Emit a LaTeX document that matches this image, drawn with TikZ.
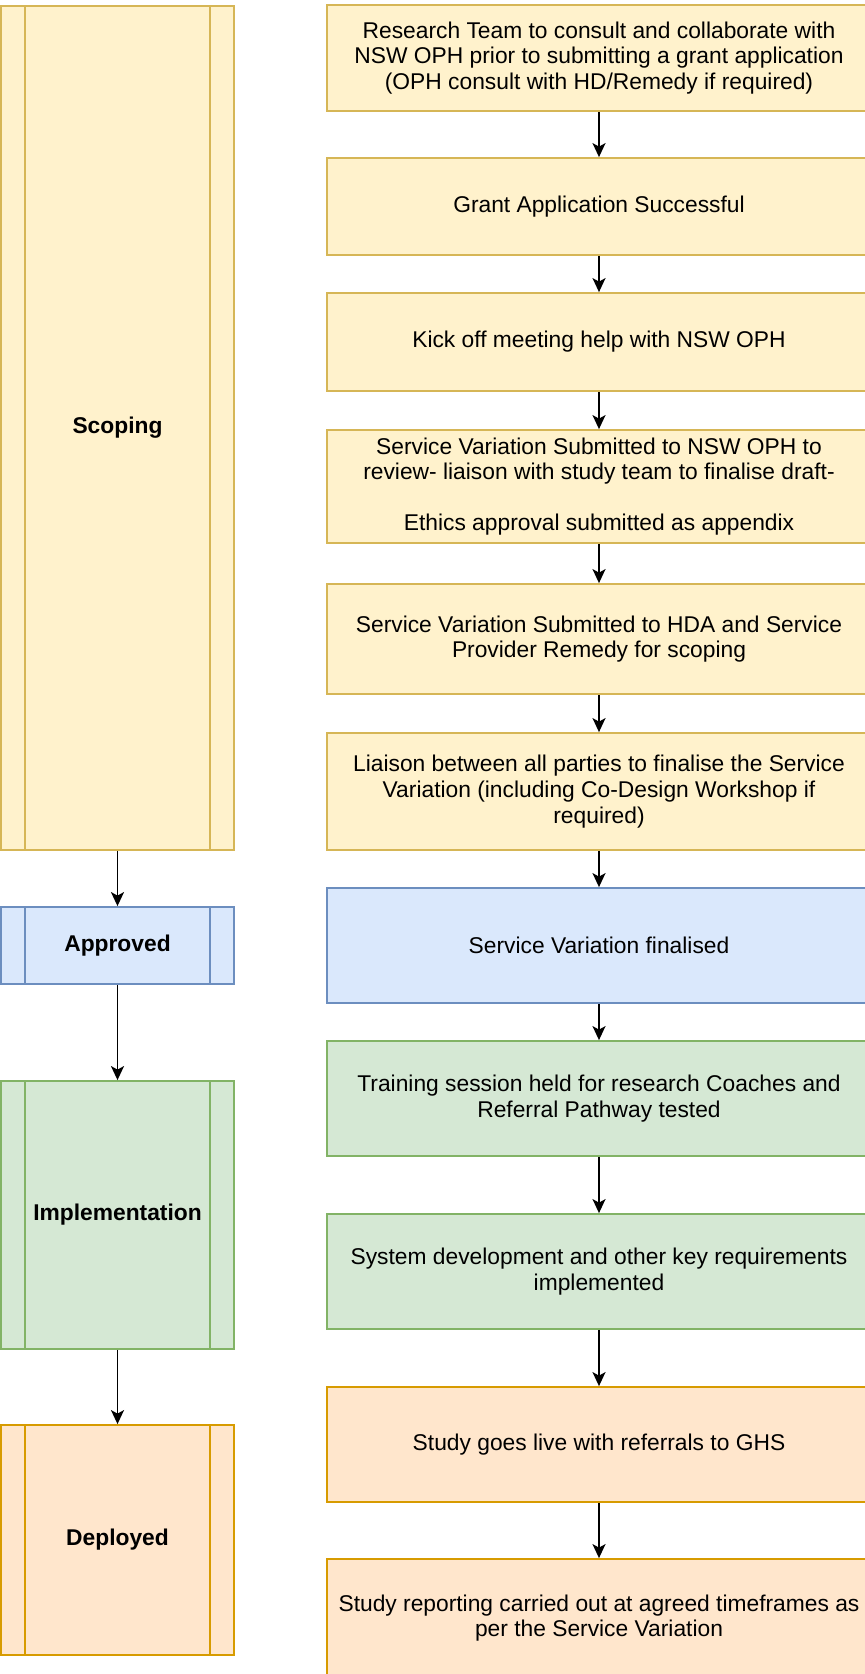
\documentclass[tikz,border=0pt]{standalone}
\usepackage{fontspec}
\setmainfont{Liberation Sans}
\usepackage{tikz}
\usetikzlibrary{arrows.meta}
\definecolor{yellowfill}{HTML}{FFF2CC}
\definecolor{yellowline}{HTML}{D6B656}
\definecolor{bluefill}{HTML}{DAE8FC}
\definecolor{blueline}{HTML}{6C8EBF}
\definecolor{greenfill}{HTML}{D5E8D4}
\definecolor{greenline}{HTML}{82B366}
\definecolor{orangefill}{HTML}{FFE6CC}
\definecolor{orangeline}{HTML}{D79B00}
\tikzset{
  stepbox/.style={draw, line width=1.8pt, inner sep=0pt, minimum width=544pt, align=center,
    font=\fontsize{22.8}{25.6}\selectfont},
  phasebox/.style={draw=#1, line width=1.8pt, inner sep=0pt, minimum width=233pt,
    font=\fontsize{22.8}{25.6}\selectfont\bfseries,
    path picture={\draw[#1, line width=1.8pt]
      ([xshift=24pt]path picture bounding box.north west) -- ([xshift=24pt]path picture bounding box.south west)
      ([xshift=-24pt]path picture bounding box.north east) -- ([xshift=-24pt]path picture bounding box.south east);}},
  yellowbox/.style={fill=yellowfill, draw=yellowline},
  bluebox/.style={fill=bluefill, draw=blueline},
  greenbox/.style={fill=greenfill, draw=greenline},
  orangebox/.style={fill=orangefill, draw=orangeline},
  flow/.style={-{Stealth[length=14pt,width=13pt,inset=3.5pt]}, line width=1.8pt}
}
\begin{document}
\begin{tikzpicture}[x=1pt,y=-1pt]
  \useasboundingbox (0,0) rectangle (865,1674);
  % phases
  \node[phasebox=yellowline, fill=yellowfill, minimum height=844pt] (scoping) at (117.5,428) {Scoping};
  \node[phasebox=blueline, fill=bluefill, minimum height=77pt] (approved) at (117.5,945.5) {Approved};
  \node[phasebox=greenline, fill=greenfill, minimum height=268pt] (implementation) at (117.5,1215) {Implementation};
  \node[phasebox=orangeline, fill=orangefill, minimum height=230pt] (deployed) at (117.5,1540) {Deployed};
  % steps
  \node[stepbox, yellowbox, minimum height=106pt] (s1) at (599,58)
    {Research Team to consult and collaborate with\\NSW OPH prior to submitting a grant application\\(OPH consult with HD/Remedy if required)};
  \node[stepbox, yellowbox, minimum height=97pt] (s2) at (599,206.5) {Grant Application Successful};
  \node[stepbox, yellowbox, minimum height=98pt] (s3) at (599,342) {Kick off meeting help with NSW OPH};
  \node[stepbox, yellowbox, minimum height=113pt] (s4) at (599,486.5)
    {Service Variation Submitted to NSW OPH to\\review- liaison with study team to finalise draft-\\[25.6pt]Ethics approval submitted as appendix};
  \node[stepbox, yellowbox, minimum height=110pt] (s5) at (599,639)
    {Service Variation Submitted to HDA and Service\\Provider Remedy for scoping};
  \node[stepbox, yellowbox, minimum height=117pt] (s6) at (599,791.5)
    {Liaison between all parties to finalise the Service\\Variation (including Co-Design Workshop if\\required)};
  \node[stepbox, bluebox, minimum height=115pt] (s7) at (599,945.5) {Service Variation finalised};
  \node[stepbox, greenbox, minimum height=115pt] (s8) at (599,1098.5)
    {Training session held for research Coaches and\\Referral Pathway tested};
  \node[stepbox, greenbox, minimum height=115pt] (s9) at (599,1271.5)
    {System development and other key requirements\\implemented};
  \node[stepbox, orangebox, minimum height=115pt] (s10) at (599,1444.5) {Study goes live with referrals to GHS};
  \node[stepbox, orangebox, minimum height=118pt] (s11) at (599,1618)
    {Study reporting carried out at agreed timeframes as\\per the Service Variation};
  % arrows
  \foreach \a/\b in {scoping/approved, approved/implementation, implementation/deployed,
    s1/s2, s2/s3, s3/s4, s4/s5, s5/s6, s6/s7, s7/s8, s8/s9, s9/s10, s10/s11}
    \draw[flow] (\a) -- (\b);
\end{tikzpicture}
\end{document}
